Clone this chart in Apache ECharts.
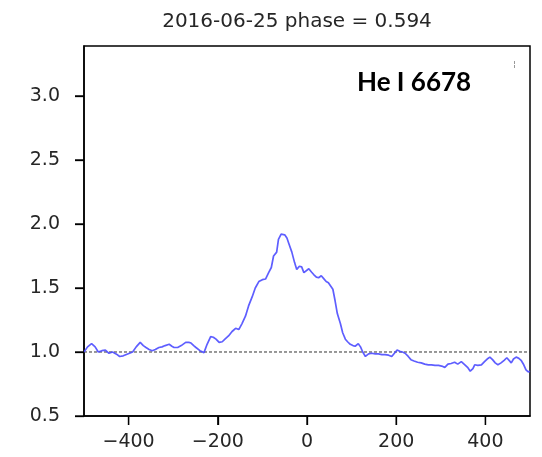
<!DOCTYPE html>
<html>
<head>
<meta charset="utf-8">
<script src="https://cdn.jsdelivr.net/npm/echarts@6/dist/echarts.min.js"></script>
<style>
  html, body { margin: 0; padding: 0; background: #fff; }
  #chart { width: 542px; height: 457px; }
</style>
</head>
<body>
<div id="chart"></div>
<script>
// He I 6678 line profile: velocity (km/s) vs normalised flux
const velocity = [
  -500, -492, -483, -475, -468, -460, -452, -444, -436, -428, -420, -412, -405, -398, -391,
  -383, -374, -367, -361, -354, -347, -340, -332, -325, -318, -309, -303, -298, -290, -282,
  -272, -265, -260, -254, -249, -240, -231, -224, -216, -210, -204, -197, -190, -184, -176,
  -168, -160, -153, -146, -138, -131, -123, -116, -108, -100, -93, -86, -80, -75, -68,
  -64, -58, -50, -45, -40, -34, -28, -23, -17, -12, -7, -3, 4, 10, 15,
  21, 26, 32, 37, 43, 48, 53, 58, 63, 68, 75, 80, 86, 91, 97,
  103, 108, 115, 120, 125, 131, 138, 145, 153, 160, 168, 175, 183, 190, 196,
  202, 208, 214, 220, 227, 233, 240, 248, 256, 264, 272, 279, 287, 295, 302,
  309, 316, 323, 331, 338, 346, 350, 354, 360, 366, 372, 376, 383, 391, 398,
  404, 410, 416, 422, 428, 435, 442, 448, 452, 458, 463, 469, 475, 480, 486,
  491, 496, 500
];
const flux = [
  1.00, 1.04, 1.065, 1.04, 1.00, 1.01, 1.015, 0.99, 1.00, 0.985, 0.965, 0.97, 0.98, 0.99, 1.00,
  1.04, 1.075, 1.05, 1.035, 1.02, 1.01, 1.02, 1.035, 1.04, 1.05, 1.06, 1.045, 1.035, 1.035, 1.05,
  1.075, 1.075, 1.07, 1.05, 1.035, 1.01, 0.995, 1.06, 1.12, 1.115, 1.10, 1.075, 1.08, 1.10, 1.125,
  1.16, 1.185, 1.175, 1.22, 1.28, 1.36, 1.43, 1.50, 1.55, 1.565, 1.57, 1.62, 1.66, 1.75, 1.78,
  1.88, 1.92, 1.915, 1.89, 1.84, 1.78, 1.70, 1.645, 1.67, 1.665, 1.62, 1.605, 1.65, 1.625, 1.605,
  1.585, 1.58, 1.595, 1.575, 1.55, 1.54, 1.515, 1.49, 1.40, 1.30, 1.22, 1.15, 1.10, 1.08, 1.06,
  1.05, 1.045, 1.065, 1.04, 1.00, 0.965, 0.985, 0.99, 0.985, 0.985, 0.98, 0.98, 0.975, 0.965, 0.99,
  1.015, 1.005, 1.00, 0.99, 0.965, 0.94, 0.93, 0.92, 0.915, 0.905, 0.90, 0.90, 0.895, 0.895, 0.89,
  0.88, 0.905, 0.91, 0.92, 0.905, 0.925, 0.91, 0.90, 0.88, 0.85, 0.87, 0.90, 0.895, 0.90, 0.925,
  0.945, 0.96, 0.94, 0.915, 0.90, 0.915, 0.935, 0.955, 0.94, 0.915, 0.945, 0.96, 0.95, 0.935, 0.90,
  0.86, 0.845, 0.85
];
const continuumLevel = 1.0;
const xTicks = [-400, -200, 0, 200, 400];
const yTicks = [0.5, 1.0, 1.5, 2.0, 2.5, 3.0];
const titleText = '2016-06-25 phase = 0.594';
const lineLabel = 'He I 6678';

const X_MIN = -500, X_MAX = 500, Y_MIN = 0.5, Y_MAX = 3.39;
const TICK_LEN = 9;

const profile = velocity.map((v, i) => [v, flux[i]]);
const continuum = [[X_MIN, continuumLevel], [X_MAX, continuumLevel]];

const tickFont = { fontFamily: 'DejaVu Sans', fontSize: 19, color: '#262626' };
const isTick = (list, v) => list.some(t => Math.abs(t - v) < 1e-6);

const chart = echarts.init(document.getElementById('chart'));
chart.setOption({
  animation: false,
  grid: {
    left: 84, right: 12, top: 46, bottom: 41,
    show: true, borderColor: '#000', borderWidth: 1.5
  },
  xAxis: {
    type: 'value', min: X_MIN, max: X_MAX, interval: 100,
    axisLine: { onZero: false, lineStyle: { color: '#000', width: 1.5 } },
    axisTick: { show: true, length: TICK_LEN, customValues: xTicks, lineStyle: { color: '#000', width: 1.3 } },
    axisLabel: Object.assign({
      margin: 17,
      formatter: v => (isTick(xTicks, v) ? (v < 0 ? '\u2212' + Math.abs(v) : String(v)) : '')
    }, tickFont),
    splitLine: { show: false }
  },
  yAxis: {
    type: 'value', min: Y_MIN, max: Y_MAX, interval: 0.5,
    axisLine: { onZero: false, lineStyle: { color: '#000', width: 1.5 } },
    axisTick: { show: true, length: TICK_LEN, customValues: yTicks, lineStyle: { color: '#000', width: 1.3 } },
    axisLabel: Object.assign({
      margin: 24,
      formatter: v => (isTick(yTicks, v) ? v.toFixed(1) : '')
    }, tickFont),
    splitLine: { show: false }
  },
  series: [
    {
      type: 'line', data: continuum, symbol: 'none', silent: true,
      lineStyle: { color: '#333', width: 1, type: [3, 2] }, z: 2
    },
    {
      type: 'line', data: profile, symbol: 'none', silent: true,
      lineStyle: { color: '#4d4dff', width: 1.7, opacity: 0.9 }, z: 3
    }
  ]
});

// Outward tick marks drawn as graphics too, positioned through each axis scale
const tickStyle = { stroke: '#000', lineWidth: 1.3 };
const tickMarks = [];
const xBase = chart.convertToPixel({ yAxisIndex: 0 }, Y_MIN);
const yBase = chart.convertToPixel({ xAxisIndex: 0 }, X_MIN);
xTicks.forEach(t => {
  const px = chart.convertToPixel({ xAxisIndex: 0 }, t);
  if (isFinite(px) && isFinite(xBase)) {
    tickMarks.push({
      type: 'line', silent: true, z: 100,
      shape: { x1: px, y1: xBase, x2: px, y2: xBase + TICK_LEN },
      style: tickStyle
    });
  }
});
yTicks.forEach(t => {
  const py = chart.convertToPixel({ yAxisIndex: 0 }, t);
  if (isFinite(py) && isFinite(yBase)) {
    tickMarks.push({
      type: 'line', silent: true, z: 100,
      shape: { x1: yBase - TICK_LEN, y1: py, x2: yBase, y2: py },
      style: tickStyle
    });
  }
});

chart.setOption({
  graphic: [
    {
      type: 'text', x: 297, y: 22,
      style: {
        text: titleText, fontFamily: 'DejaVu Sans', fontSize: 20, fill: '#262626',
        align: 'center', verticalAlign: 'middle'
      }
    },
    {
      type: 'text', x: 357, y: 96,
      style: {
        text: lineLabel, fontFamily: 'Lato', fontWeight: 'bold', fontSize: 26, fill: '#000',
        align: 'left', verticalAlign: 'bottom'
      }
    },
    {
      type: 'line', shape: { x1: 514.5, y1: 61, x2: 514.5, y2: 68 },
      style: { stroke: '#999', lineWidth: 1, lineDash: [3, 1] }
    }
  ].concat(tickMarks)
});
</script>
</body>
</html>
